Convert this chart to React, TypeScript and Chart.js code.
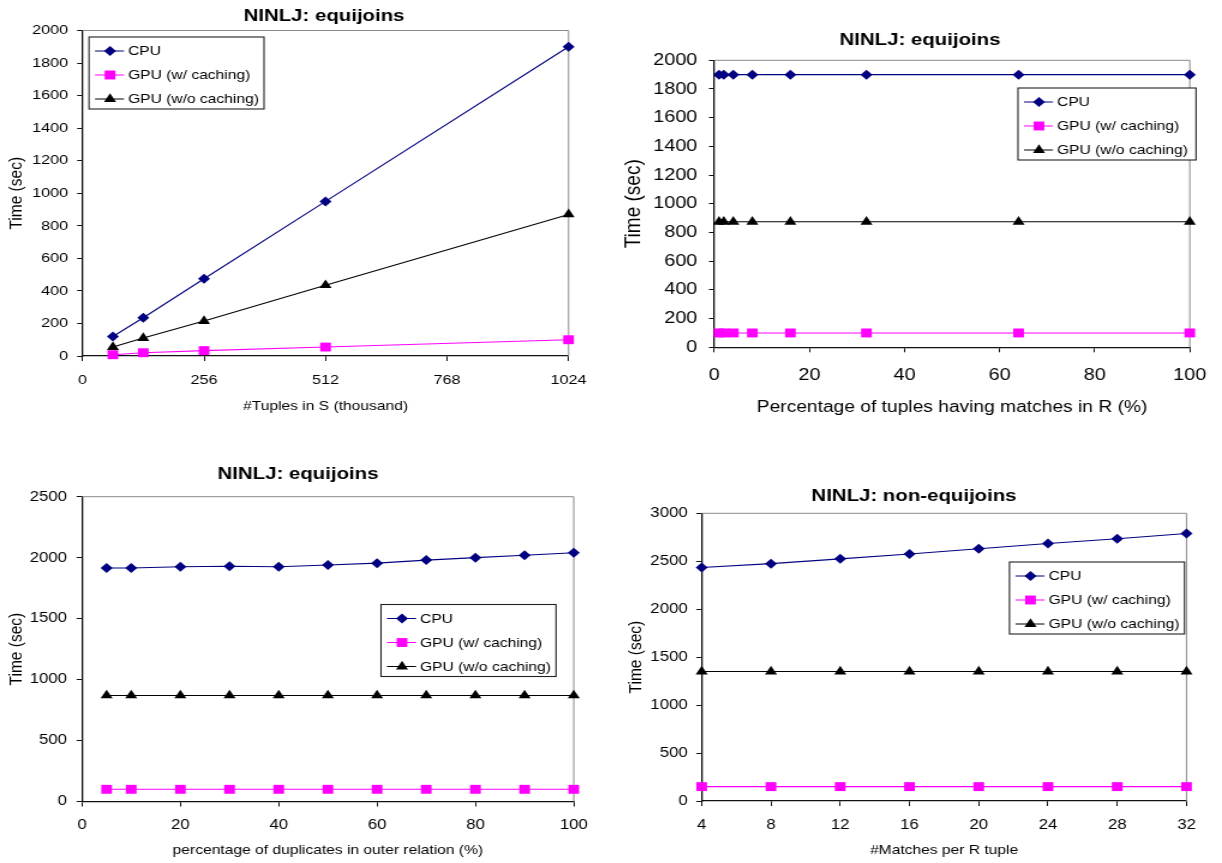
import React, { useEffect, useRef } from "react";
import { Chart, registerables } from "chart.js";

Chart.register(...registerables);

// Every panel is rendered narrow and widened horizontally by this factor.
const STRETCH = 1.2;
const FONT = "'Liberation Sans', Arial, Helvetica, sans-serif";

const SERIES_NAMES = ["CPU", "GPU (w/ caching)", "GPU (w/o caching)"];

// Panel 1: time vs. size of S
const tuplesInS = [64, 128, 256, 512, 1024];
const cpuBySize = [120, 235, 475, 950, 1900];
const gpuCachedBySize = [8, 20, 33, 55, 100];
const gpuUncachedBySize = [55, 110, 215, 435, 870];

// Panel 2: time vs. share of tuples with a match in R
const matchPercent = [1, 2, 4, 8, 16, 32, 64, 100];
const cpuByMatch = [1900, 1900, 1900, 1900, 1900, 1900, 1900, 1900];
const gpuCachedByMatch = [100, 100, 100, 100, 100, 100, 100, 100];
const gpuUncachedByMatch = [875, 875, 875, 875, 875, 875, 875, 875];

// Panel 3: time vs. duplicates in the outer relation
const duplicatePercent = [5, 10, 20, 30, 40, 50, 60, 70, 80, 90, 100];
const cpuByDup = [1915, 1915, 1925, 1930, 1925, 1940, 1955, 1980, 2000, 2020, 2040];
const gpuCachedByDup = [100, 100, 100, 100, 100, 100, 100, 100, 100, 100, 100];
const gpuUncachedByDup = [870, 870, 870, 870, 870, 870, 870, 870, 870, 870, 870];

// Panel 4: non-equijoins, time vs. matches per R tuple
const matchesPerTuple = [4, 8, 12, 16, 20, 24, 28, 32];
const cpuByMatches = [2435, 2475, 2525, 2575, 2630, 2685, 2735, 2790];
const gpuCachedByMatches = [150, 150, 150, 150, 150, 150, 150, 150];
const gpuUncachedByMatches = [1350, 1350, 1350, 1350, 1350, 1350, 1350, 1350];

const SERIES_STYLES = [
  { color: "#000080", point: "rectRot", radius: 5.0 },
  { color: "#FF00FF", point: "rect", radius: 6.3 },
  { color: "#000000", point: "triangle", radius: 5.8 },
];

type Panel = {
  id: string;
  title: string;
  xTitle: string;
  x: number[];
  series: number[][];
  xMin: number;
  xMax: number;
  xStep: number;
  yMax: number;
  yStep: number;
  // page-pixel layout
  box: { left: number; top: number; width: number; height: number };
  plot: { left: number; right: number; top: number; bottom: number };
  titlePos: { x: number; y: number };
  legend: { x: number; y: number; w: number; h: number };
  tickSize: number;
  xTitleSize: number;
  yTitleSize: number;
  yTitleX: number;
  xTitleY: number;
  yLabelGap: number;
  xLabelOffset: number;
};

const panels: Panel[] = [
  {
    id: "size",
    title: "NINLJ: equijoins",
    xTitle: "#Tuples in S (thousand)",
    x: tuplesInS,
    series: [cpuBySize, gpuCachedBySize, gpuUncachedBySize],
    xMin: 0, xMax: 1024, xStep: 256, yMax: 2000, yStep: 200,
    box: { left: 0, top: 0, width: 600, height: 425 },
    plot: { left: 82.5, right: 573, top: 30.5, bottom: 356 },
    titlePos: { x: 324, y: 16.5 },
    legend: { x: 89, y: 37, w: 175, h: 72 },
    tickSize: 13.5, xTitleSize: 13, yTitleSize: 15.5,
    yTitleX: 16, xTitleY: 406.5, yLabelGap: 14.4, xLabelOffset: 24.3,
  },
  {
    id: "match",
    title: "NINLJ: equijoins",
    xTitle: "Percentage of tuples having matches in R (%)",
    x: matchPercent,
    series: [cpuByMatch, gpuCachedByMatch, gpuUncachedByMatch],
    xMin: 0, xMax: 100, xStep: 20, yMax: 2000, yStep: 200,
    box: { left: 610, top: 0, width: 612, height: 425 },
    plot: { left: 714.3, right: 1200, top: 60.3, bottom: 347.3 },
    titlePos: { x: 920, y: 40.5 },
    legend: { x: 1018, y: 88, w: 178, h: 72 },
    tickSize: 16.5, xTitleSize: 16, yTitleSize: 19,
    yTitleX: 634, xTitleY: 407.5, yLabelGap: 17, xLabelOffset: 28,
  },
  {
    id: "dup",
    title: "NINLJ: equijoins",
    xTitle: "percentage of duplicates in outer relation (%)",
    x: duplicatePercent,
    series: [cpuByDup, gpuCachedByDup, gpuUncachedByDup],
    xMin: 0, xMax: 100, xStep: 20, yMax: 2500, yStep: 500,
    box: { left: 0, top: 435, width: 600, height: 428 },
    plot: { left: 82, right: 578, top: 496.7, bottom: 801.5 },
    titlePos: { x: 298, y: 474.5 },
    legend: { x: 381, y: 604.5, w: 175, h: 72 },
    tickSize: 14, xTitleSize: 13, yTitleSize: 15.5,
    yTitleX: 16, xTitleY: 850.5, yLabelGap: 15, xLabelOffset: 23.6,
  },
  {
    id: "nonequi",
    title: "NINLJ: non-equijoins",
    xTitle: "#Matches per R tuple",
    x: matchesPerTuple,
    series: [cpuByMatches, gpuCachedByMatches, gpuUncachedByMatches],
    xMin: 4, xMax: 32, xStep: 4, yMax: 3000, yStep: 500,
    box: { left: 610, top: 435, width: 612, height: 428 },
    plot: { left: 701.7, right: 1186.5, top: 513.3, bottom: 801 },
    titlePos: { x: 914, y: 496.7 },
    legend: { x: 1009.5, y: 562, w: 175, h: 72 },
    tickSize: 14, xTitleSize: 13, yTitleSize: 15.5,
    yTitleX: 635.5, xTitleY: 850.3, yLabelGap: 14, xLabelOffset: 23.7,
  },
];

function drawMarker(ctx: CanvasRenderingContext2D, style: string, x: number, y: number, r: number) {
  ctx.beginPath();
  if (style === "rectRot") {
    ctx.moveTo(x - r, y);
    ctx.lineTo(x, y - r);
    ctx.lineTo(x + r, y);
    ctx.lineTo(x, y + r);
  } else if (style === "rect") {
    const s = Math.SQRT1_2 * r;
    ctx.rect(x - s, y - s, 2 * s, 2 * s);
  } else {
    ctx.moveTo(x, y - r);
    ctx.lineTo(x + r * Math.sin((2 * Math.PI) / 3), y - r * Math.cos((2 * Math.PI) / 3));
    ctx.lineTo(x + r * Math.sin((4 * Math.PI) / 3), y - r * Math.cos((4 * Math.PI) / 3));
  }
  ctx.closePath();
  ctx.fill();
}

// Plot frame, panel heading and boxed legend.
const decorPlugin = {
  id: "decor",
  beforeDatasetsDraw(chart: any) {
    const { ctx, chartArea: a } = chart;
    ctx.save();
    ctx.strokeStyle = "#8a8a8a";
    ctx.lineWidth = 1;
    ctx.beginPath();
    ctx.moveTo(a.left, a.top);
    ctx.lineTo(a.right, a.top);
    ctx.lineTo(a.right, a.bottom);
    ctx.stroke();
    ctx.restore();
  },
  afterDraw(chart: any, _args: any, opts: any) {
    const ctx: CanvasRenderingContext2D = chart.ctx;
    ctx.save();
    ctx.fillStyle = "#000";
    ctx.font = `bold 17px ${FONT}`;
    ctx.textAlign = "center";
    ctx.textBaseline = "middle";
    ctx.fillText(opts.title, opts.titleX, opts.titleY);

    const lg = opts.legend;
    ctx.fillStyle = "#fff";
    ctx.fillRect(lg.x, lg.y, lg.w, lg.h);
    ctx.strokeStyle = "#222";
    ctx.lineWidth = 1.1;
    ctx.strokeRect(lg.x, lg.y, lg.w, lg.h);
    ctx.font = `13px ${FONT}`;
    ctx.textAlign = "left";
    const rows = [14, 38, 62];
    chart.data.datasets.forEach((ds: any, i: number) => {
      const st = SERIES_STYLES[i];
      const y = lg.y + rows[i];
      ctx.strokeStyle = st.color;
      ctx.lineWidth = 1;
      ctx.beginPath();
      ctx.moveTo(lg.x + 6 / STRETCH, y);
      ctx.lineTo(lg.x + 35 / STRETCH, y);
      ctx.stroke();
      ctx.fillStyle = st.color;
      drawMarker(ctx, st.point, lg.x + 21 / STRETCH, y, st.radius);
      ctx.fillStyle = "#000";
      ctx.fillText(ds.label, lg.x + 39 / STRETCH, y + 0.5);
    });
    ctx.restore();
  },
};

const plainNumber = (v: any) => String(v);

function buildConfig(p: Panel): any {
  const S = STRETCH;
  const cx = (px: number) => (px - p.box.left) / S;
  const yTickLen = 4.5;
  const xTickLen = 5;
  const xTitleLH = p.xTitleSize * 1.2;
  const yTitleLH = p.yTitleSize * 1.2;
  const axisColor = "#111";

  return {
    type: "line",
    data: {
      datasets: p.series.map((vals, i) => ({
        label: SERIES_NAMES[i],
        data: p.x.map((xv, k) => ({ x: xv, y: vals[k] })),
        borderColor: SERIES_STYLES[i].color,
        backgroundColor: SERIES_STYLES[i].color,
        pointBackgroundColor: SERIES_STYLES[i].color,
        pointBorderColor: SERIES_STYLES[i].color,
        pointBorderWidth: 0,
        pointStyle: SERIES_STYLES[i].point,
        pointRadius: SERIES_STYLES[i].radius,
        borderWidth: 1.1,
        tension: 0,
        fill: false,
        clip: false,
      })),
    },
    options: {
      responsive: false,
      animation: false,
      events: [],
      layout: {
        padding: {
          left: 0,
          top: p.plot.top - p.box.top,
          right: (p.box.left + p.box.width - p.plot.right) / S,
          bottom: 0,
        },
      },
      plugins: {
        legend: { display: false },
        tooltip: { enabled: false },
        title: { display: false },
        decor: {
          title: p.title,
          titleX: cx(p.titlePos.x),
          titleY: p.titlePos.y - p.box.top,
          legend: {
            x: cx(p.legend.x),
            y: p.legend.y - p.box.top,
            w: p.legend.w / S,
            h: p.legend.h,
          },
        },
      },
      scales: {
        x: {
          type: "linear",
          position: "bottom",
          min: p.xMin,
          max: p.xMax,
          afterFit: (scale: any) => {
            scale.height = p.box.top + p.box.height - p.plot.bottom;
          },
          ticks: {
            stepSize: p.xStep,
            autoSkip: false,
            maxRotation: 0,
            color: "#000",
            callback: plainNumber,
            font: { family: FONT, size: p.tickSize },
            padding: p.xLabelOffset - xTickLen - p.tickSize * 0.6,
          },
          grid: {
            display: true,
            drawOnChartArea: false,
            drawTicks: true,
            tickLength: xTickLen,
            color: axisColor,
            lineWidth: 1,
          },
          border: { display: true, color: axisColor, width: 1.3 },
          title: {
            display: true,
            text: p.xTitle,
            color: "#000",
            font: { family: FONT, size: p.xTitleSize },
            padding: { top: 0, bottom: p.box.top + p.box.height - p.xTitleY - xTitleLH / 2 },
          },
        },
        y: {
          type: "linear",
          position: "left",
          min: 0,
          max: p.yMax,
          afterFit: (scale: any) => {
            scale.width = (p.plot.left - p.box.left) / S;
          },
          ticks: {
            stepSize: p.yStep,
            autoSkip: false,
            color: "#000",
            callback: plainNumber,
            font: { family: FONT, size: p.tickSize },
            padding: p.yLabelGap / S - yTickLen,
          },
          grid: {
            display: true,
            drawOnChartArea: false,
            drawTicks: true,
            tickLength: yTickLen,
            color: axisColor,
            lineWidth: 1,
          },
          border: { display: true, color: axisColor, width: 1.3 },
          title: {
            display: true,
            text: "Time (sec)",
            color: "#000",
            font: { family: FONT, size: p.yTitleSize },
            padding: { top: cx(p.yTitleX) - yTitleLH / 2, bottom: 0 },
          },
        },
      },
    },
    plugins: [decorPlugin],
  };
}

function PanelChart({ panel }: { panel: Panel }) {
  const ref = useRef<HTMLCanvasElement>(null);
  useEffect(() => {
    const chart = new Chart(ref.current as HTMLCanvasElement, buildConfig(panel));
    return () => chart.destroy();
  }, [panel]);
  const w = Math.round(panel.box.width / STRETCH);
  return (
    <canvas
      ref={ref}
      width={w}
      height={panel.box.height}
      style={{
        position: "absolute",
        left: panel.box.left,
        top: panel.box.top,
        width: w,
        height: panel.box.height,
        transform: `scaleX(${STRETCH})`,
        transformOrigin: "0 0",
      }}
    />
  );
}

export default function App() {
  return (
    <div
      style={{
        position: "absolute",
        left: 0,
        top: 0,
        width: 1222,
        height: 863,
        background: "#fff",
        overflow: "hidden",
      }}
    >
      {panels.map((p) => (
        <PanelChart key={p.id} panel={p} />
      ))}
    </div>
  );
}
